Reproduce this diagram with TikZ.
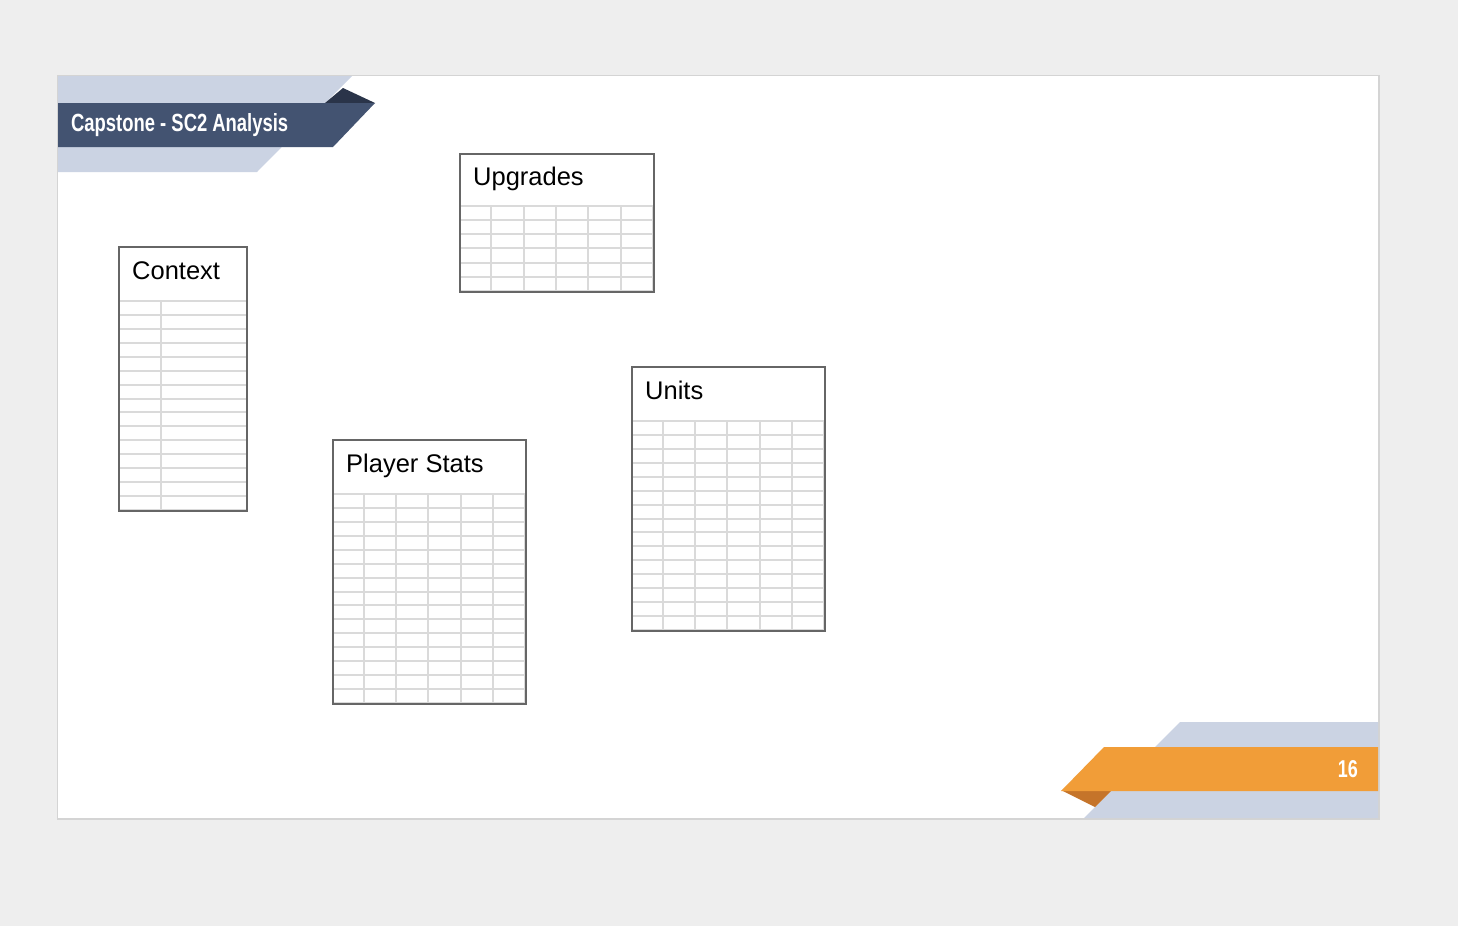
\documentclass[tikz,border=0pt]{standalone}
\usepackage{fontspec}
\setmainfont{Liberation Sans}
\usetikzlibrary{calc}
\definecolor{pagebg}{HTML}{EEEEEE}
\definecolor{slideedge}{HTML}{D4D4D4}
\definecolor{lightband}{HTML}{CBD3E3}
\definecolor{darkband}{HTML}{435371}
\definecolor{darkfold}{HTML}{2A3449}
\definecolor{orangeband}{HTML}{F19D38}
\definecolor{orangefold}{HTML}{C5742A}
\definecolor{tblborder}{HTML}{666666}
\definecolor{gridcol}{HTML}{DADADA}
\tikzset{
  tbl/.style={draw=tblborder, line width=1.5pt, minimum width=#1, inner sep=0pt, anchor=north west},
  ttl/.style={anchor=base west, inner sep=0pt, font=\fontsize{25.5}{28}\selectfont, text=black},
  gridln/.style={draw=gridcol, line width=1.3pt},
}
\newcommand\tblrows[5]{%
  \pgfmathsetmacro\rowh{(#4-#3)/#5}%
  \foreach \k in {0,...,#5}{\draw[gridln] (#1,{round(#3+\k*\rowh)}) -- (#2,{round(#3+\k*\rowh)});}%
}
\newcommand\tblcols[5]{%
  \pgfmathsetmacro\colw{(#2-#1)/#5}%
  \foreach \k in {1,...,#5}{\draw[gridln] ({round(#1+\k*\colw)},#3) -- ({round(#1+\k*\colw)},#4);}%
}
\begin{document}
\begin{tikzpicture}[x=1pt,y=-1pt]
\useasboundingbox (0,0) rectangle (1458,926);
\fill[pagebg] (0,0) rectangle (1458,926);
% slide
\fill[slideedge] (56.5,74.5) rectangle (1380,820);
\fill[white] (58,76) rectangle (1378,818);
% top banner
\fill[lightband] (58,76) -- (352,76) -- (257,172) -- (58,172) -- cycle;
\fill[darkfold] (325,103) -- (343,88) -- (375,103) -- cycle;
\fill[darkband] (58,103) -- (375,103) -- (333,147) -- (58,147) -- cycle;
\node[anchor=base west, inner sep=0pt, text=white, font=\bfseries] (title) at (71,131.5)
  {\resizebox{217pt}{18pt}{Capstone - SC2 Analysis}};
% bottom banner
\fill[lightband] (1180,722) -- (1378,722) -- (1378,818) -- (1084,818) -- cycle;
\fill[orangefold] (1061,790) -- (1111,791) -- (1095,807) -- cycle;
\fill[orangeband] (1104,747) -- (1378,747) -- (1378,791) -- (1061,791) -- cycle;
\node[anchor=base east, inner sep=0pt, text=white, font=\bfseries] (pagenum) at (1358,777)
  {\resizebox{20pt}{17pt}{16}};
% Context table
\tblrows{118}{246}{301}{510}{15}
\draw[gridln] (161,301) -- (161,510);
\node[tbl=128pt, minimum height=264pt] (ctx) at (118,246) {};
\node[ttl] (ctxT) at ($(ctx.north west)+(14,33)$) {Context};
% Upgrades table
\tblrows{459}{653}{206}{291}{6}
\tblcols{459}{653}{206}{291}{6}
\node[tbl=194pt, minimum height=138pt] (upg) at (459,153) {};
\node[ttl] (upgT) at ($(upg.north west)+(14,32)$) {Upgrades};
% Player Stats table
\tblrows{332}{525}{494}{703}{15}
\tblcols{332}{525}{494}{703}{6}
\node[tbl=193pt, minimum height=264pt] (ps) at (332,439) {};
\node[ttl] (psT) at ($(ps.north west)+(14,33)$) {Player Stats};
% Units table
\tblrows{631}{824}{421}{630}{15}
\tblcols{631}{824}{421}{630}{6}
\node[tbl=193pt, minimum height=264pt] (un) at (631,366) {};
\node[ttl] (unT) at ($(un.north west)+(14,33)$) {Units};
\end{tikzpicture}
\end{document}
